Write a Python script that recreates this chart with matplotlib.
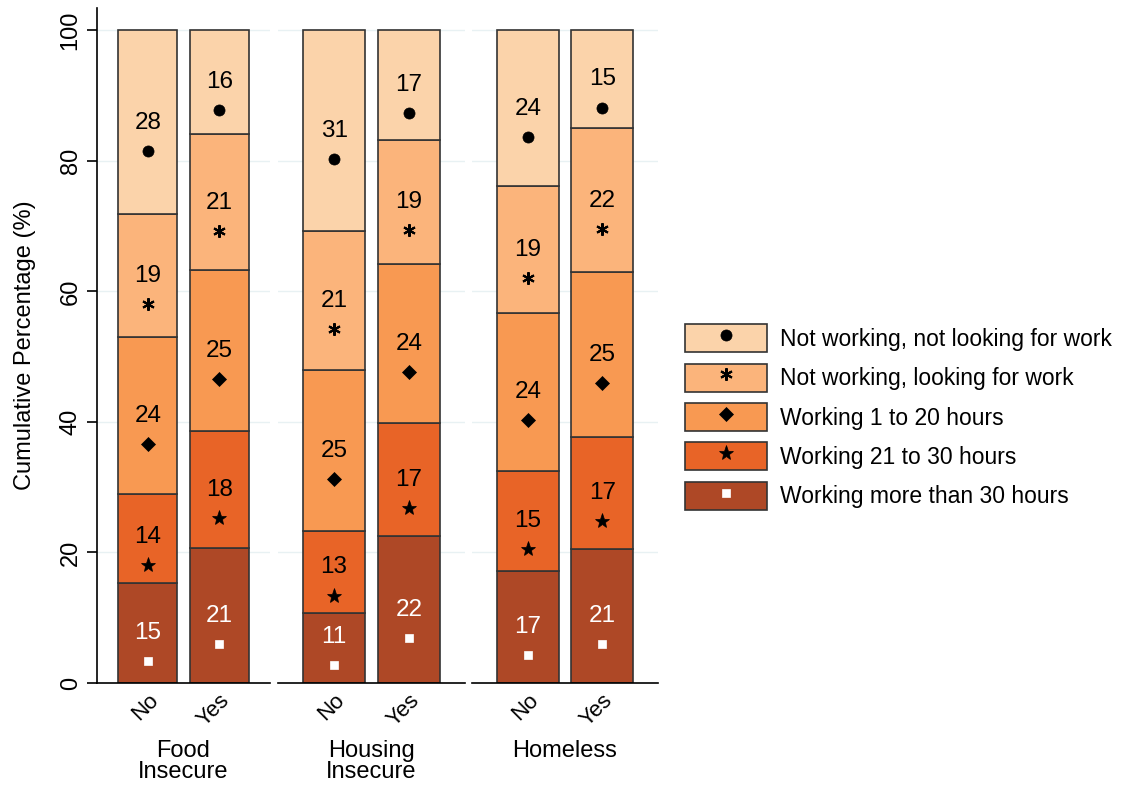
import matplotlib
matplotlib.use("Agg")
import matplotlib.pyplot as plt
from matplotlib.patches import Patch
from matplotlib.lines import Line2D
from matplotlib.legend_handler import HandlerTuple

plt.rcParams['font.family'] = ['Liberation Sans', 'DejaVu Sans']

# data (bottom segment first)
groups = ['Food\nInsecure', 'Housing\nInsecure', 'Homeless']
answers = ['No', 'Yes']
categories = ['Working more than 30 hours', 'Working 21 to 30 hours',
              'Working 1 to 20 hours', 'Not working, looking for work',
              'Not working, not looking for work']
# segment heights per group: [No, Yes]
shares = {
    'Food\nInsecure': [[15.3, 13.6, 24.1, 18.8, 28.2], [20.7, 17.9, 24.6, 20.9, 15.9]],
    'Housing\nInsecure': [[10.7, 12.6, 24.7, 21.2, 30.8], [22.5, 17.4, 24.3, 19.0, 16.8]],
    'Homeless': [[17.2, 15.3, 24.2, 19.4, 23.9], [20.5, 17.2, 25.2, 22.1, 15.0]],
}
labels = {
    'Food\nInsecure': [[15, 14, 24, 19, 28], [21, 18, 25, 21, 16]],
    'Housing\nInsecure': [[11, 13, 25, 21, 31], [22, 17, 24, 19, 17]],
    'Homeless': [[17, 15, 24, 19, 24], [21, 17, 25, 22, 15]],
}

colors = ['#ae4826', '#e86427', '#f89952', '#fbb47b', '#fbd3aa']
markers = ['s', '*', 'D', (6, 2, 0), 'o']
msizes = [6, 11, 7, 9, 8]
mcolors = ['white', 'black', 'black', 'black', 'black']

fig = plt.figure(figsize=(11.31, 7.85), dpi=100)
W, H = 1131, 785
panels = [(97, 270), (278, 465), (472, 658)]
bottom_px, top_px = 683, 8

axes = []
for i, g in enumerate(groups):
    x0, x1 = panels[i]
    ax = fig.add_axes([x0 / W, (H - bottom_px) / H, (x1 - x0) / W, (bottom_px - top_px) / H])
    axes.append(ax)
    ax.set_ylim(0, 103.4)
    if i == 0:
        ax.set_xlim(-0.71, 1.71)
    else:
        ax.set_xlim(-0.75, 1.75)
    for j, ans in enumerate(answers):
        base = 0
        for k in range(len(categories)):
            h = shares[g][j][k]
            ax.bar(j, h, bottom=base, width=0.83, color=colors[k],
                   edgecolor='#333333', linewidth=1.2, zorder=2)
            mid = base + h / 2
            my = max(mid - 4.35, base + 2.7)
            tcol = 'white' if k == 0 else 'black'
            ax.text(j, my + 4.3, str(labels[g][j][k]), ha='center', va='center',
                    fontsize=17.5, color=tcol, zorder=3)
            ax.plot(j, my, marker=markers[k], markersize=msizes[k],
                    color=mcolors[k], markeredgewidth=1.5 if k == 3 else 0.5,
                    markeredgecolor=mcolors[k], linestyle='none', zorder=3)
            base += h
    ax.set_yticks([0, 20, 40, 60, 80, 100])
    ax.yaxis.grid(True, color='#e8f1f3', linewidth=1, zorder=0)
    ax.set_axisbelow(True)
    ax.set_xticks([0, 1])
    ax.set_xticklabels(answers, rotation=45, ha='right', rotation_mode='anchor', fontsize=16)
    ax.tick_params(axis='x', length=0, pad=5)
    ax.set_xlabel(g, fontsize=17, labelpad=7, linespacing=0.95)
    for s in ['top', 'right']:
        ax.spines[s].set_visible(False)
    ax.spines['bottom'].set_linewidth(1.2)
    if i == 0:
        ax.spines['left'].set_linewidth(1.2)
        ax.tick_params(axis='y', length=7, width=1.2, labelsize=17, pad=4)
        for t in ax.get_yticklabels():
            t.set_rotation(90)
            t.set_va('center')
        ax.set_ylabel('Cumulative Percentage (%)', fontsize=17, labelpad=17)
    else:
        ax.spines['left'].set_visible(False)
        ax.tick_params(axis='y', length=0, labelleft=False)

handles = []
for k in range(len(categories) - 1, -1, -1):
    p = Patch(facecolor=colors[k], edgecolor='#333333', linewidth=1.2)
    m = Line2D([], [], marker=markers[k], markersize=msizes[k], color=mcolors[k],
               markeredgecolor=mcolors[k], markeredgewidth=1.5 if k == 3 else 0.5,
               linestyle='none')
    handles.append((p, m))
leg_labels = categories[::-1]
fig.legend(handles, leg_labels, handler_map={tuple: HandlerTuple(ndivide=1)},
           loc='center left', bbox_to_anchor=(667 / W, 1 - 417 / H), frameon=False,
           fontsize=16.5, handlelength=3.58, handleheight=1.5, labelspacing=0.5,
           handletextpad=0.57, borderpad=0.3)

fig.savefig('out.png', dpi=100)
